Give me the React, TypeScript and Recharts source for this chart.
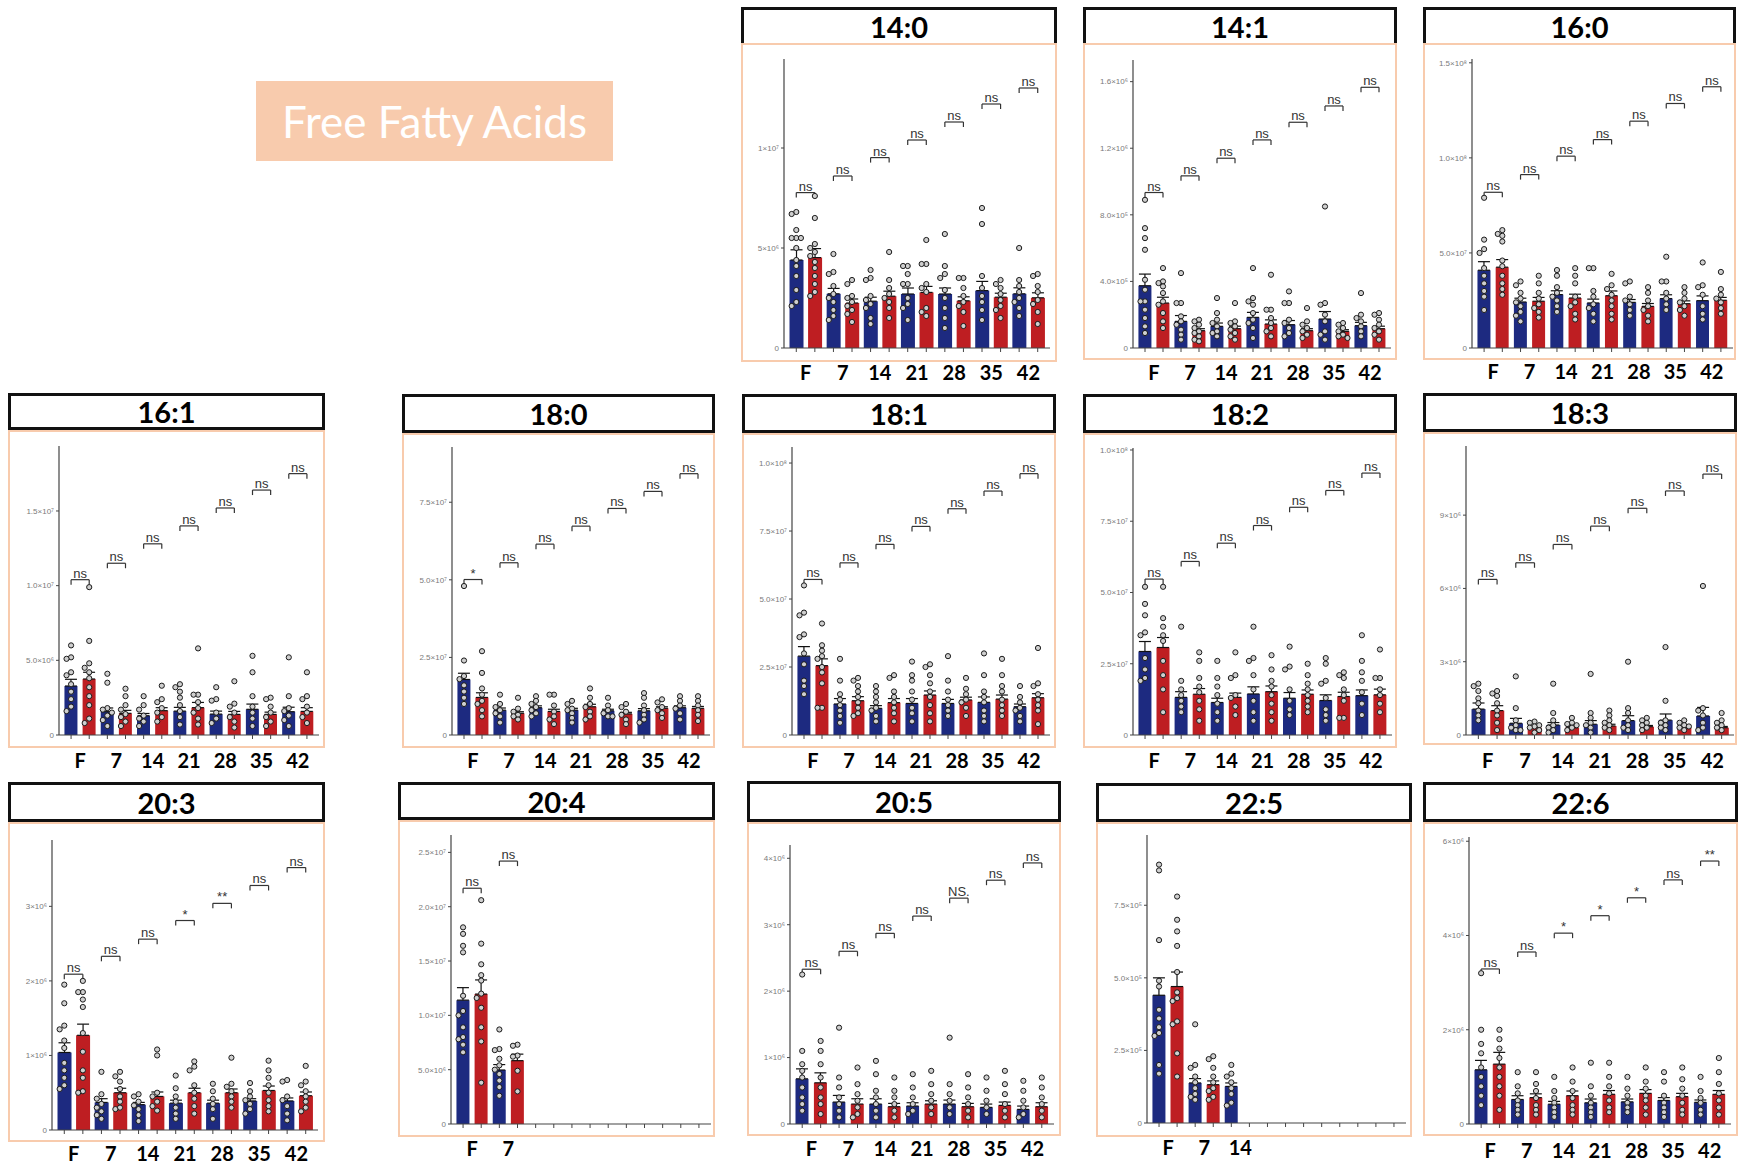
import React from "react";
import {
  Bar,
  Cell,
  ComposedChart,
  ErrorBar,
  ReferenceLine,
  Scatter,
  XAxis,
  YAxis,
} from "recharts";

const BLUE = "#1d2a80";
const RED = "#be1e22";
const PEACH = "#f8cbad";

const DAYS = ["F", "7", "14", "21", "28", "35", "42"];
const NS7 = ["ns", "ns", "ns", "ns", "ns", "ns", "ns"];

// bar order everywhere: F-blue, F-red, 7-blue, 7-red, ... 42-red

// 14:0, units of 1e6
const m14_0 = [4.4, 4.52, 2.71, 2.25, 2.34, 2.59, 2.7, 2.78, 2.7, 2.36, 2.87, 2.54, 2.71, 2.51];
const s14_0 = [0.51, 0.45, 0.27, 0.2, 0.2, 0.25, 0.3, 0.3, 0.3, 0.2, 0.46, 0.2, 0.3, 0.25];
const p14_0 = [
  [6.8, 6.7, 5.9, 5.5, 5.5, 5.5, 5.0, 4.4, 4.1, 3.6, 2.9, 2.3, 2.1],
  [7.6, 6.5, 5.2, 5.0, 4.8, 4.6, 4.3, 4.0, 3.6, 3.2, 2.8, 2.6],
  [4.7, 3.8, 3.7, 3.1, 2.7, 2.5, 2.3, 1.9, 1.6, 1.4],
  [3.4, 3.2, 2.6, 2.5, 2.3, 2.1, 1.9, 1.7, 1.3],
  [3.9, 3.5, 3.4, 2.6, 2.4, 2.2, 2.0, 1.5, 1.2],
  [4.8, 3.4, 3.0, 2.7, 2.5, 2.3, 2.0, 1.5],
  [4.1, 4.1, 3.7, 3.2, 3.2, 2.5, 2.2, 2.0, 1.4],
  [5.4, 4.2, 4.2, 3.2, 3.0, 2.8, 2.0, 1.8, 1.6],
  [5.7, 4.1, 3.7, 3.5, 2.9, 2.5, 2.0, 1.5, 1.0],
  [3.5, 3.5, 3.0, 2.6, 2.3, 2.1, 1.8, 1.1],
  [7.0, 6.2, 3.6, 3.0, 2.6, 2.3, 1.9, 1.4],
  [3.4, 3.2, 3.0, 2.7, 2.4, 2.1, 1.9, 1.5],
  [5.0, 3.4, 3.1, 2.8, 2.5, 2.3, 2.0, 1.6],
  [3.7, 3.6, 3.1, 2.8, 2.4, 2.2, 1.8, 1.2],
];
const b14_0 = [7.77, 8.6, 9.52, 10.4, 11.3, 12.2, 13.0];
const t14_0 = [0, 5, 10];
const l14_0 = ["0", "5×10⁶", "1×10⁷"];

// 14:1, units of 1e5
const m14_1 = [3.74, 2.7, 1.6, 1.04, 1.3, 1.16, 1.84, 1.44, 1.4, 1.04, 1.74, 1.0, 1.34, 1.16];
const s14_1 = [0.7, 0.35, 0.35, 0.12, 0.2, 0.15, 0.3, 0.25, 0.25, 0.12, 0.45, 0.1, 0.2, 0.15];
const p14_1 = [
  [8.9, 7.2, 6.6, 5.9, 4.1, 3.5, 2.8, 2.8, 2.3, 1.8, 1.3, 0.9],
  [4.8, 4.0, 3.9, 3.7, 3.3, 2.8, 2.6, 2.1, 1.6, 1.2],
  [4.5, 2.7, 2.7, 1.9, 1.6, 1.4, 1.1, 0.8, 0.5],
  [1.7, 1.6, 1.4, 1.2, 1.0, 0.9, 0.7, 0.5, 0.4],
  [3.0, 2.1, 1.7, 1.5, 1.3, 1.0, 0.9, 0.7],
  [2.7, 1.6, 1.5, 1.3, 1.1, 0.9, 0.7, 0.5],
  [4.8, 3.0, 2.8, 2.6, 2.1, 1.7, 1.5, 1.2, 0.6],
  [4.4, 2.3, 2.3, 1.8, 1.5, 1.2, 1.0, 0.7],
  [3.4, 2.7, 2.7, 1.7, 1.5, 1.2, 0.9, 0.7],
  [2.4, 1.6, 1.4, 1.2, 1.0, 0.8, 0.6],
  [8.5, 2.7, 2.6, 2.0, 1.6, 1.0, 0.8, 0.5],
  [1.5, 1.4, 1.2, 1.0, 0.8, 0.7, 0.6],
  [3.3, 2.0, 1.8, 1.6, 1.3, 1.0, 0.7],
  [2.1, 2.0, 1.7, 1.4, 1.2, 1.0, 0.8, 0.5],
];
const b14_1 = [9.34, 10.34, 11.4, 12.5, 13.56, 14.54, 15.66];
const t14_1 = [0, 4, 8, 12, 16];
const l14_1 = ["0", "4.0×10⁵", "8.0×10⁵", "1.2×10⁶", "1.6×10⁶"];

// 16:0, units of 1e7
const m16_0 = [4.09, 4.25, 2.42, 2.46, 2.81, 2.63, 2.37, 2.75, 2.4, 2.19, 2.6, 2.33, 2.49, 2.51];
const s16_0 = [0.45, 0.4, 0.2, 0.2, 0.2, 0.2, 0.2, 0.25, 0.15, 0.15, 0.2, 0.15, 0.25, 0.15];
const p16_0 = [
  [7.9, 5.7, 5.2, 5.0, 4.2, 3.8, 3.4, 3.0, 2.7, 2.0],
  [6.2, 6.0, 5.9, 5.6, 4.6, 4.3, 3.8, 3.4, 3.1, 2.8],
  [3.5, 3.3, 2.9, 2.6, 2.4, 2.2, 1.9, 1.7, 1.4],
  [3.8, 3.4, 2.9, 2.6, 2.3, 2.1, 1.9, 1.6],
  [4.1, 3.8, 3.2, 2.9, 2.7, 2.5, 2.2, 1.9],
  [4.2, 3.8, 3.4, 2.7, 2.4, 2.2, 1.8, 1.5],
  [4.2, 4.2, 3.0, 2.7, 2.3, 2.1, 1.8, 1.4],
  [3.9, 3.3, 3.1, 2.8, 2.5, 2.2, 1.8, 1.5],
  [3.5, 3.4, 2.7, 2.5, 2.3, 2.0, 1.7],
  [3.2, 2.9, 2.5, 2.2, 2.0, 1.7, 1.4],
  [4.8, 3.5, 3.5, 2.9, 2.6, 2.3, 2.0],
  [3.2, 2.9, 2.6, 2.4, 2.2, 2.0, 1.7],
  [4.5, 3.3, 3.2, 2.8, 2.2, 1.8, 1.5],
  [4.0, 3.1, 2.8, 2.6, 2.4, 2.1, 1.8],
];
const b16_0 = [8.19, 9.12, 10.09, 10.96, 11.93, 12.86, 13.74];
const t16_0 = [0, 5, 10, 15];
const l16_0 = ["0", "5.0×10⁷", "1.0×10⁸", "1.5×10⁸"];

// 16:1, units of 1e6
const m16_1 = [3.28, 3.75, 1.56, 1.45, 1.29, 1.63, 1.6, 1.83, 1.4, 1.38, 1.72, 1.38, 1.56, 1.58];
const s16_1 = [0.45, 0.45, 0.25, 0.2, 0.15, 0.2, 0.25, 0.35, 0.2, 0.2, 0.35, 0.15, 0.3, 0.25];
const p16_1 = [
  [6.0, 5.2, 5.1, 4.2, 4.0, 3.4, 2.9, 2.4, 1.9, 1.6],
  [9.9, 6.3, 4.8, 4.5, 4.2, 3.8, 3.2, 2.6, 2.0, 1.1, 0.8],
  [4.1, 3.5, 1.8, 1.7, 1.5, 1.3, 1.0, 0.6],
  [3.1, 2.6, 2.0, 1.7, 1.4, 1.2, 0.9, 0.6],
  [2.6, 2.0, 1.7, 1.3, 1.1, 0.9, 0.6],
  [3.3, 2.4, 2.2, 1.8, 1.5, 1.2, 0.9],
  [3.4, 3.2, 2.9, 2.5, 2.0, 1.6, 1.2, 0.7],
  [5.8, 2.7, 2.7, 2.2, 1.8, 1.5, 1.1, 0.7],
  [3.2, 2.4, 2.3, 1.5, 1.1, 0.8],
  [3.6, 2.1, 1.9, 1.5, 1.2, 0.9, 0.5],
  [5.3, 4.2, 2.6, 1.9, 1.5, 1.1, 0.6],
  [2.5, 2.4, 1.9, 1.5, 1.2, 0.9, 0.6],
  [5.2, 2.6, 1.8, 1.6, 1.3, 1.0, 0.6],
  [4.2, 2.6, 2.4, 1.9, 1.5, 1.2, 0.8],
];
const b16_1 = [10.4, 11.5, 12.8, 14.0, 15.2, 16.4, 17.5];
const t16_1 = [0, 5, 10, 15];
const l16_1 = ["0", "5.0×10⁶", "1.0×10⁷", "1.5×10⁷"];

// 18:0, units of 1e7
const m18_0 = [1.79, 1.21, 0.8, 0.7, 0.88, 0.76, 0.8, 0.91, 0.78, 0.68, 0.78, 0.86, 0.88, 0.86];
const s18_0 = [0.2, 0.15, 0.07, 0.05, 0.06, 0.07, 0.06, 0.08, 0.05, 0.05, 0.07, 0.05, 0.06, 0.06];
const p18_0 = [
  [4.8, 2.4, 1.9, 1.8, 1.6, 1.4, 1.2, 1.0],
  [2.7, 2.0, 1.5, 1.3, 1.1, 1.0, 0.8, 0.6],
  [1.3, 1.0, 0.9, 0.8, 0.7, 0.6, 0.4],
  [1.2, 0.85, 0.75, 0.65, 0.6, 0.5],
  [1.25, 1.1, 1.0, 0.9, 0.8, 0.7, 0.6],
  [1.3, 1.3, 0.95, 0.75, 0.6, 0.5, 0.35],
  [1.1, 1.0, 0.85, 0.8, 0.7, 0.55, 0.4],
  [1.5, 1.2, 1.0, 0.9, 0.75, 0.6, 0.5],
  [1.2, 0.95, 0.8, 0.7, 0.6, 0.6],
  [1.0, 0.9, 0.75, 0.65, 0.5, 0.35],
  [1.35, 1.2, 0.95, 0.8, 0.65, 0.5, 0.4],
  [1.15, 1.05, 0.9, 0.8, 0.7, 0.55],
  [1.25, 1.1, 0.95, 0.85, 0.7, 0.5],
  [1.25, 1.1, 0.95, 0.8, 0.65, 0.45],
];
const b18_0 = [5.01, 5.55, 6.15, 6.73, 7.3, 7.85, 8.42];
const g18_0 = ["*", "ns", "ns", "ns", "ns", "ns", "ns"];
const t18_0 = [0, 2.5, 5, 7.5];
const l18_0 = ["0", "2.5×10⁷", "5.0×10⁷", "7.5×10⁷"];

// 18:1, units of 1e7
const m18_1 = [2.9, 2.55, 1.14, 1.26, 0.98, 1.19, 1.16, 1.47, 1.16, 1.29, 1.2, 1.32, 1.04, 1.37];
const s18_1 = [0.35, 0.25, 0.2, 0.15, 0.1, 0.15, 0.18, 0.15, 0.15, 0.1, 0.2, 0.15, 0.1, 0.15];
const p18_1 = [
  [5.5, 4.5, 4.4, 3.7, 3.6, 3.0, 2.6, 2.0, 1.8, 1.5],
  [4.1, 3.3, 3.1, 2.9, 2.8, 2.5, 2.3, 1.9, 1.0, 1.0],
  [2.8, 2.0, 1.5, 1.3, 1.1, 0.9, 0.7, 0.45],
  [2.1, 2.0, 1.8, 1.6, 1.4, 1.2, 1.0, 0.8, 0.7],
  [1.8, 1.6, 1.4, 1.2, 1.0, 0.9, 0.7, 0.5],
  [2.2, 2.1, 1.6, 1.4, 1.2, 1.0, 0.8, 0.5],
  [2.7, 2.2, 2.0, 1.6, 1.3, 1.0, 0.8, 0.5],
  [2.6, 2.5, 2.2, 1.9, 1.6, 1.4, 1.1, 0.8, 0.5],
  [2.9, 2.0, 1.6, 1.3, 1.1, 0.9, 0.7],
  [2.1, 1.7, 1.5, 1.3, 1.2, 1.0, 0.7],
  [3.0, 2.2, 1.6, 1.4, 1.2, 0.9, 0.7, 0.5],
  [2.8, 2.2, 1.8, 1.6, 1.3, 1.1, 0.9, 0.7],
  [1.8, 1.4, 1.2, 1.0, 0.9, 0.7, 0.5],
  [3.2, 1.9, 1.8, 1.5, 1.3, 1.1, 0.9, 0.4],
];
const b18_1 = [5.72, 6.33, 7.01, 7.67, 8.32, 8.97, 9.61];
const t18_1 = [0, 2.5, 5, 7.5, 10];
const l18_1 = ["0", "2.5×10⁷", "5.0×10⁷", "7.5×10⁷", "1.0×10⁸"];

// 18:2, units of 1e7
const m18_2 = [2.93, 3.07, 1.32, 1.43, 1.14, 1.32, 1.44, 1.52, 1.29, 1.43, 1.21, 1.35, 1.38, 1.41];
const s18_2 = [0.35, 0.35, 0.2, 0.2, 0.15, 0.15, 0.25, 0.2, 0.2, 0.15, 0.2, 0.15, 0.2, 0.2];
const p18_2 = [
  [5.2, 4.6, 4.2, 3.6, 3.5, 2.7, 2.3, 2.0, 1.9],
  [5.2, 4.1, 3.8, 3.5, 3.3, 2.6, 2.1, 1.6, 0.8],
  [3.8, 1.9, 1.6, 1.4, 1.2, 1.0, 0.8],
  [2.9, 2.6, 2.0, 1.7, 1.5, 1.2, 0.9, 0.5],
  [2.6, 2.0, 1.7, 1.4, 1.1, 0.8, 0.5],
  [2.9, 2.1, 2.0, 1.4, 1.3, 1.0, 0.7],
  [3.8, 2.7, 2.6, 2.1, 1.6, 1.2, 0.8, 0.5],
  [2.8, 2.3, 1.9, 1.7, 1.4, 1.1, 0.8, 0.5],
  [3.1, 2.4, 2.3, 1.6, 1.2, 0.9, 0.7],
  [2.5, 2.1, 1.8, 1.6, 1.4, 1.2, 1.0, 0.8],
  [2.7, 2.5, 1.9, 1.8, 1.3, 0.9, 0.7, 0.5],
  [2.2, 2.1, 2.0, 1.6, 1.4, 1.2, 0.6, 0.6],
  [3.5, 2.6, 2.2, 1.9, 1.5, 1.1, 0.7],
  [3.0, 2.0, 2.0, 1.6, 1.4, 1.1, 0.8],
];
const b18_2 = [5.47, 6.09, 6.73, 7.35, 7.99, 8.58, 9.19];
const t18_2 = [0, 2.5, 5, 7.5, 10];
const l18_2 = ["0", "2.5×10⁷", "5.0×10⁷", "7.5×10⁷", "1.0×10⁸"];

// 18:3, units of 1e6
const m18_3 = [1.06, 1.0, 0.48, 0.3, 0.41, 0.3, 0.44, 0.37, 0.59, 0.34, 0.61, 0.3, 0.78, 0.3];
const s18_3 = [0.25, 0.2, 0.2, 0.05, 0.1, 0.05, 0.15, 0.07, 0.2, 0.05, 0.25, 0.04, 0.35, 0.05];
const p18_3 = [
  [2.1, 2.0, 1.8, 1.5, 1.3, 1.0, 0.8, 0.6],
  [1.8, 1.7, 1.6, 1.3, 1.0, 0.8, 0.5, 0.2],
  [2.4, 1.1, 0.6, 0.4, 0.3, 0.2, 0.2],
  [0.55, 0.5, 0.4, 0.35, 0.3, 0.2, 0.1],
  [2.1, 0.9, 0.6, 0.4, 0.3, 0.2, 0.1],
  [0.7, 0.5, 0.45, 0.4, 0.3, 0.2],
  [2.5, 0.9, 0.7, 0.5, 0.4, 0.3, 0.1],
  [1.0, 0.8, 0.6, 0.5, 0.4, 0.3, 0.2],
  [3.0, 1.1, 0.9, 0.6, 0.4, 0.3, 0.2],
  [0.7, 0.6, 0.5, 0.4, 0.3, 0.2],
  [3.6, 1.4, 0.6, 0.5, 0.4, 0.3, 0.2],
  [0.6, 0.5, 0.4, 0.35, 0.3, 0.2],
  [6.1, 1.1, 1.0, 0.8, 0.5, 0.3, 0.2],
  [0.9, 0.6, 0.5, 0.4, 0.3, 0.2],
];
const b18_3 = [6.37, 7.05, 7.8, 8.55, 9.28, 9.99, 10.68];
const t18_3 = [0, 3, 6, 9];
const l18_3 = ["0", "3×10⁶", "6×10⁶", "9×10⁶"];

// 20:3, units of 1e6
const m20_3 = [1.04, 1.27, 0.37, 0.5, 0.34, 0.45, 0.36, 0.5, 0.36, 0.5, 0.39, 0.53, 0.39, 0.46];
const s20_3 = [0.13, 0.15, 0.05, 0.06, 0.03, 0.06, 0.04, 0.06, 0.04, 0.05, 0.03, 0.06, 0.04, 0.05];
const p20_3 = [
  [1.95, 1.7, 1.4, 1.35, 1.2, 1.1, 0.9, 0.8, 0.7, 0.6, 0.55],
  [2.0, 1.85, 1.85, 1.75, 1.65, 1.3, 1.05, 0.8, 0.7, 0.52, 0.5],
  [0.78, 0.48, 0.42, 0.35, 0.3, 0.25, 0.2, 0.15],
  [0.78, 0.72, 0.65, 0.55, 0.45, 0.38, 0.3, 0.28],
  [0.48, 0.45, 0.38, 0.33, 0.28, 0.2, 0.12],
  [1.08, 1.0, 0.5, 0.45, 0.38, 0.32, 0.26],
  [0.73, 0.56, 0.45, 0.38, 0.3, 0.22, 0.15],
  [0.92, 0.85, 0.8, 0.6, 0.5, 0.42, 0.32, 0.22],
  [0.62, 0.52, 0.42, 0.35, 0.28, 0.15],
  [0.97, 0.62, 0.58, 0.52, 0.45, 0.38, 0.3],
  [0.63, 0.52, 0.45, 0.4, 0.35, 0.28, 0.22],
  [0.93, 0.8, 0.7, 0.6, 0.5, 0.4, 0.32, 0.25],
  [0.67, 0.65, 0.45, 0.4, 0.32, 0.22, 0.13],
  [0.86, 0.65, 0.6, 0.52, 0.45, 0.38, 0.3, 0.25],
];
const b20_3 = [2.09, 2.33, 2.56, 2.81, 3.04, 3.28, 3.52];
const g20_3 = ["ns", "ns", "ns", "*", "**", "ns", "ns"];
const t20_3 = [0, 1, 2, 3];
const l20_3 = ["0", "1×10⁶", "2×10⁶", "3×10⁶"];

// 20:4, units of 1e6 (only F and 7 measured)
const m20_4 = [11.4, 11.96, 4.97, 5.83, null, null, null, null, null, null, null, null, null, null];
const s20_4 = [1.15, 1.3, 0.5, 0.6, null, null, null, null, null, null, null, null, null, null];
const p20_4 = [
  [18.1, 17.5, 16.4, 15.8, 11.8, 10.4, 10.0, 8.9, 8.0, 7.8, 7.3, 6.6],
  [20.6, 16.6, 14.7, 13.7, 13.2, 12.0, 11.6, 10.7, 8.9, 7.6, 3.8],
  [8.7, 6.9, 6.8, 6.0, 5.4, 5.0, 4.6, 4.0, 3.4, 2.6],
  [7.3, 7.2, 6.3, 6.2, 4.9, 3.0],
  [], [], [], [], [], [], [], [], [], [],
];
const b20_4 = [21.7, 24.2];
const t20_4 = [0, 5, 10, 15, 20, 25];
const l20_4 = ["0", "5.0×10⁶", "1.0×10⁷", "1.5×10⁷", "2.0×10⁷", "2.5×10⁷"];

// 20:5, units of 1e6
const m20_5 = [0.68, 0.62, 0.33, 0.3, 0.3, 0.26, 0.27, 0.3, 0.3, 0.26, 0.25, 0.28, 0.22, 0.26];
const s20_5 = [0.15, 0.15, 0.1, 0.08, 0.08, 0.05, 0.05, 0.05, 0.06, 0.05, 0.05, 0.05, 0.05, 0.06];
const p20_5 = [
  [2.25, 1.1, 0.9, 0.8, 0.7, 0.55, 0.4, 0.3, 0.2],
  [1.25, 1.1, 0.9, 0.7, 0.55, 0.4, 0.3, 0.15],
  [1.45, 0.7, 0.55, 0.4, 0.3, 0.2, 0.1],
  [0.85, 0.6, 0.45, 0.35, 0.25, 0.15, 0.1],
  [0.95, 0.75, 0.5, 0.4, 0.3, 0.2, 0.1],
  [0.7, 0.5, 0.4, 0.3, 0.2, 0.1],
  [0.75, 0.55, 0.4, 0.3, 0.2, 0.15],
  [0.8, 0.6, 0.45, 0.35, 0.25, 0.15],
  [1.3, 0.6, 0.45, 0.35, 0.25, 0.15],
  [0.75, 0.55, 0.4, 0.3, 0.2, 0.1],
  [0.7, 0.5, 0.35, 0.25, 0.15],
  [0.8, 0.6, 0.45, 0.3, 0.2, 0.1],
  [0.65, 0.5, 0.35, 0.25, 0.15, 0.1],
  [0.7, 0.55, 0.4, 0.3, 0.2, 0.1],
];
const b20_5 = [2.33, 2.6, 2.87, 3.13, 3.4, 3.67, 3.93];
const g20_5 = ["ns", "ns", "ns", "ns", "NS.", "ns", "ns"];
const t20_5 = [0, 1, 2, 3, 4];
const l20_5 = ["0", "1×10⁶", "2×10⁶", "3×10⁶", "4×10⁶"];

// 22:5, units of 1e5 (F, 7 and 14-blue only)
const m22_5 = [4.4, 4.7, 1.38, 1.32, 1.26, null, null, null, null, null, null, null, null, null];
const s22_5 = [0.6, 0.5, 0.15, 0.13, 0.12, null, null, null, null, null, null, null, null, null];
const p22_5 = [
  [8.9, 8.7, 6.3, 4.9, 4.7, 3.9, 3.6, 3.3, 3.1, 3.0, 2.0, 1.7],
  [7.8, 7.0, 6.6, 6.1, 5.2, 4.5, 4.3, 4.2, 3.5, 3.4, 2.4, 1.6],
  [3.4, 2.0, 1.9, 1.6, 1.4, 1.2, 1.0, 0.9, 0.8],
  [2.3, 2.2, 1.9, 1.6, 1.4, 1.2, 1.1, 0.9, 0.8],
  [2.0, 1.7, 1.6, 1.4, 1.2, 1.0, 0.7, 0.6],
  [], [], [], [], [], [], [], [], [],
];
const t22_5 = [0, 2.5, 5, 7.5];
const l22_5 = ["0", "2.5×10⁵", "5.0×10⁵", "7.5×10⁵"];

// 22:6, units of 1e6
const m22_6 = [1.15, 1.27, 0.52, 0.56, 0.42, 0.6, 0.45, 0.63, 0.47, 0.65, 0.5, 0.58, 0.46, 0.63];
const s22_6 = [0.2, 0.25, 0.08, 0.08, 0.06, 0.1, 0.08, 0.08, 0.06, 0.08, 0.06, 0.07, 0.05, 0.08];
const p22_6 = [
  [3.2, 2.0, 1.7, 1.5, 1.2, 1.0, 0.8, 0.6, 0.4],
  [2.0, 1.8, 1.6, 1.4, 1.2, 1.0, 0.8, 0.6, 0.3],
  [1.1, 0.8, 0.65, 0.5, 0.4, 0.3, 0.2],
  [1.1, 0.85, 0.7, 0.55, 0.4, 0.3, 0.2],
  [1.0, 0.7, 0.55, 0.45, 0.35, 0.25, 0.15],
  [1.2, 0.9, 0.7, 0.55, 0.4, 0.3, 0.2],
  [1.3, 0.8, 0.6, 0.45, 0.35, 0.25, 0.15],
  [1.3, 1.0, 0.8, 0.65, 0.5, 0.35, 0.25],
  [1.0, 0.75, 0.6, 0.45, 0.35, 0.25],
  [1.2, 0.9, 0.75, 0.6, 0.5, 0.35, 0.2],
  [1.1, 0.9, 0.6, 0.45, 0.35, 0.25, 0.15],
  [1.2, 0.95, 0.75, 0.6, 0.45, 0.3, 0.2],
  [1.0, 0.7, 0.55, 0.45, 0.3, 0.2],
  [1.4, 1.1, 0.85, 0.65, 0.5, 0.35, 0.2],
];
const b22_6 = [3.29, 3.65, 4.05, 4.42, 4.8, 5.18, 5.58];
const g22_6 = ["ns", "ns", "*", "*", "*", "ns", "**"];
const t22_6 = [0, 2, 4, 6];
const l22_6 = ["0", "2×10⁶", "4×10⁶", "6×10⁶"];

type PanelData = {
  title: string;
  mean: (number | null)[];
  sem: (number | null)[];
  pts: number[][];
  brk: number[];
  sig: string[];
  yMax: number;
  yTicks: number[];
  yLabels: string[];
  days: string[];
};

// L/R: box edges, T/TB: title box top/bottom, OB: frame bottom,
// AX: y-axis x, AT: y-axis top, Z: zero line, RR: last band end, LY: day label y
type Box = {
  L: number; R: number; T: number; TB: number; OB: number;
  AX: number; AT: number; Z: number; RR: number; LY: number; open?: boolean;
};

const panels: { d: PanelData; b: Box }[] = [
  {
    d: { title: "14:0", mean: m14_0, sem: s14_0, pts: p14_0, brk: b14_0, sig: NS7, yMax: 14.45, yTicks: t14_0, yLabels: l14_0, days: DAYS },
    b: { L: 741, R: 1057, T: 7, TB: 43, OB: 362, AX: 784, AT: 59, Z: 348, RR: 1047, LY: 372, open: true },
  },
  {
    d: { title: "14:1", mean: m14_1, sem: s14_1, pts: p14_1, brk: b14_1, sig: NS7, yMax: 17.3, yTicks: t14_1, yLabels: l14_1, days: DAYS },
    b: { L: 1083, R: 1397, T: 7, TB: 43, OB: 360, AX: 1133, AT: 60, Z: 348, RR: 1388, LY: 372, open: true },
  },
  {
    d: { title: "16:0", mean: m16_0, sem: s16_0, pts: p16_0, brk: b16_0, sig: NS7, yMax: 15.2, yTicks: t16_0, yLabels: l16_0, days: DAYS },
    b: { L: 1423, R: 1736, T: 7, TB: 43, OB: 360, AX: 1472, AT: 59, Z: 348, RR: 1730, LY: 371, open: true },
  },
  {
    d: { title: "16:1", mean: m16_1, sem: s16_1, pts: p16_1, brk: b16_1, sig: NS7, yMax: 19.35, yTicks: t16_1, yLabels: l16_1, days: DAYS },
    b: { L: 8, R: 325, T: 393, TB: 430, OB: 748, AX: 59, AT: 446, Z: 735, RR: 316, LY: 760 },
  },
  {
    d: { title: "18:0", mean: m18_0, sem: s18_0, pts: p18_0, brk: b18_0, sig: g18_0, yMax: 9.28, yTicks: t18_0, yLabels: l18_0, days: DAYS },
    b: { L: 402, R: 715, T: 394, TB: 433, OB: 748, AX: 452, AT: 447, Z: 735, RR: 707, LY: 760 },
  },
  {
    d: { title: "18:1", mean: m18_1, sem: s18_1, pts: p18_1, brk: b18_1, sig: NS7, yMax: 10.59, yTicks: t18_1, yLabels: l18_1, days: DAYS },
    b: { L: 742, R: 1056, T: 394, TB: 433, OB: 748, AX: 792, AT: 447, Z: 735, RR: 1047, LY: 760 },
  },
  {
    d: { title: "18:2", mean: m18_2, sem: s18_2, pts: p18_2, brk: b18_2, sig: NS7, yMax: 10.07, yTicks: t18_2, yLabels: l18_2, days: DAYS },
    b: { L: 1083, R: 1397, T: 394, TB: 433, OB: 748, AX: 1133, AT: 448, Z: 735, RR: 1389, LY: 760 },
  },
  {
    d: { title: "18:3", mean: m18_3, sem: s18_3, pts: p18_3, brk: b18_3, sig: NS7, yMax: 11.83, yTicks: t18_3, yLabels: l18_3, days: DAYS },
    b: { L: 1423, R: 1737, T: 393, TB: 432, OB: 745, AX: 1466, AT: 446, Z: 735, RR: 1731, LY: 760 },
  },
  {
    d: { title: "20:3", mean: m20_3, sem: s20_3, pts: p20_3, brk: b20_3, sig: g20_3, yMax: 3.89, yTicks: t20_3, yLabels: l20_3, days: DAYS },
    b: { L: 8, R: 325, T: 782, TB: 822, OB: 1142, AX: 52, AT: 840, Z: 1130, RR: 315, LY: 1153 },
  },
  {
    d: { title: "20:4", mean: m20_4, sem: s20_4, pts: p20_4, brk: b20_4, sig: ["ns", "ns"], yMax: 26.6, yTicks: t20_4, yLabels: l20_4, days: ["F", "7"] },
    b: { L: 398, R: 715, T: 782, TB: 820, OB: 1137, AX: 451, AT: 835, Z: 1124, RR: 708, LY: 1148 },
  },
  {
    d: { title: "20:5", mean: m20_5, sem: s20_5, pts: p20_5, brk: b20_5, sig: g20_5, yMax: 4.2, yTicks: t20_5, yLabels: l20_5, days: DAYS },
    b: { L: 747, R: 1061, T: 781, TB: 822, OB: 1136, AX: 790, AT: 845, Z: 1124, RR: 1051, LY: 1148 },
  },
  {
    d: { title: "22:5", mean: m22_5, sem: s22_5, pts: p22_5, brk: [], sig: [], yMax: 9.92, yTicks: t22_5, yLabels: l22_5, days: ["F", "7", "14"] },
    b: { L: 1096, R: 1412, T: 783, TB: 822, OB: 1137, AX: 1147, AT: 835, Z: 1123, RR: 1403, LY: 1147 },
  },
  {
    d: { title: "22:6", mean: m22_6, sem: s22_6, pts: p22_6, brk: b22_6, sig: g22_6, yMax: 6.09, yTicks: t22_6, yLabels: l22_6, days: DAYS },
    b: { L: 1423, R: 1738, T: 782, TB: 822, OB: 1136, AX: 1469, AT: 837, Z: 1124, RR: 1728, LY: 1150 },
  },
];

// spread the dots of one bar sideways when they would overlap (simple beeswarm)
function swarm(pts: number[][], thr: number) {
  const out: { x: number; y: number }[] = [];
  const cands = [0, -0.25, 0.25, -0.13, 0.13, -0.36, 0.36];
  pts.forEach((list, i) => {
    const placed: { dx: number; y: number }[] = [];
    [...list].sort((a, b) => b - a).forEach((v) => {
      const dx =
        cands.find((c) =>
          placed.every((p) => Math.abs(p.dx - c) >= 0.24 || Math.abs(p.y - v) >= thr)
        ) ?? 0;
      placed.push({ dx, y: v });
      out.push({ x: i + dx, y: v });
    });
  });
  return out;
}

const dotShape = (p: any) => (
  <circle cx={p.cx} cy={p.cy} r={2.6} fill="#cfcfcf" stroke="#1a1a1a" strokeWidth={1} />
);

function Panel({ d, b }: { d: PanelData; b: Box }) {
  const W = b.R - b.L;
  const H = b.LY + 14 - b.TB;
  const plotH = b.Z - b.AT;
  const unitPerPx = d.yMax / plotH;
  const leg = unitPerPx * 5;
  const rows = d.mean.map((m, i) => ({
    cat: i,
    x: i,
    mean: m,
    err: m == null ? null : [0, d.sem[i]],
  }));
  const dots = swarm(d.pts, unitPerPx * 4.6);
  const xTicks: number[] = [];
  for (let i = 0; i < 14; i++) {
    xTicks.push(i);
    if (i % 2 === 0) xTicks.push(i + 0.5);
  }
  const labelDy = b.LY - b.Z;

  const renderXTick = (p: any) => {
    const v = p.payload.value as number;
    if (Number.isInteger(v)) {
      return <line x1={p.x} x2={p.x} y1={p.y} y2={p.y + 4} stroke="#444" strokeWidth={1} />;
    }
    const label = d.days[(v - 0.5) / 2];
    if (!label) return <g />;
    return (
      <text
        x={p.x}
        y={p.y + labelDy}
        textAnchor="middle"
        dominantBaseline="central"
        fontFamily="Lato, 'Open Sans', sans-serif"
        fontWeight={700}
        fontSize={20}
        fill="#000"
      >
        {label}
      </text>
    );
  };

  return (
    <>
      <div
        style={{
          position: "absolute",
          left: b.L,
          top: b.TB,
          width: W,
          height: b.OB - b.TB,
          border: `2px solid ${PEACH}`,
          boxSizing: "border-box",
        }}
      />
      <div
        style={{
          position: "absolute",
          left: b.L,
          top: b.T,
          width: W,
          height: b.TB - b.T,
          border: "3px solid #111",
          borderBottom: b.open ? "none" : "3px solid #111",
          boxSizing: "border-box",
          background: "#fff",
          display: "flex",
          alignItems: "center",
          justifyContent: "center",
          fontFamily: "Lato, 'Open Sans', sans-serif",
          fontWeight: 700,
          fontSize: 29,
          color: "#000",
        }}
      >
        {d.title}
      </div>
      <div style={{ position: "absolute", left: b.L, top: b.TB }}>
        <ComposedChart
          width={W}
          height={H}
          data={rows}
          barCategoryGap="13.5%"
          margin={{ top: b.AT - b.TB, right: b.R - b.RR - 3, bottom: 0, left: 0 }}
        >
          <XAxis
            xAxisId="num"
            dataKey="x"
            type="number"
            domain={[-0.5, 13.5]}
            allowDataOverflow
            ticks={xTicks}
            interval={0}
            tick={renderXTick}
            tickLine={false}
            tickSize={0}
            tickMargin={0}
            height={b.LY + 14 - b.Z}
            axisLine={{ stroke: "#444", strokeWidth: 1.2 }}
            padding={{ left: 3, right: 3 }}
          />
          <XAxis xAxisId="cat" dataKey="cat" type="category" hide height={0} padding={{ left: 3, right: 3 }} />
          <YAxis
            type="number"
            domain={[0, d.yMax]}
            allowDataOverflow
            ticks={d.yTicks}
            interval={0}
            width={b.AX - b.L}
            tickFormatter={(v: number) => d.yLabels[d.yTicks.indexOf(v)] ?? ""}
            tick={{ fontSize: 8, fill: "#7a7a7a", fontFamily: "'Liberation Sans', Arial, sans-serif" }}
            tickSize={3}
            tickMargin={2}
            axisLine={{ stroke: "#444", strokeWidth: 1.2 }}
            tickLine={{ stroke: "#444" }}
          />
          <Bar xAxisId="cat" dataKey="mean" isAnimationActive={false}>
            {rows.map((r) => (
              <Cell key={r.cat} fill={r.cat % 2 === 0 ? BLUE : RED} />
            ))}
            <ErrorBar dataKey="err" direction="y" width={6} stroke="#111" strokeWidth={1.2} isAnimationActive={false} />
          </Bar>
          <Scatter xAxisId="num" data={dots} dataKey="y" shape={dotShape} isAnimationActive={false} />
          {d.brk.flatMap((h, p) => [
            <ReferenceLine
              key={`h${p}`}
              xAxisId="num"
              ifOverflow="visible"
              segment={[{ x: 2 * p, y: h }, { x: 2 * p + 1, y: h }]}
              stroke="#333"
              strokeWidth={1.2}
              label={{
                value: d.sig[p],
                position: "top",
                offset: 2,
                fontSize: 13,
                fill: "#333",
                fontFamily: "'Liberation Sans', Arial, sans-serif",
              }}
            />,
            <ReferenceLine
              key={`l${p}`}
              xAxisId="num"
              ifOverflow="visible"
              segment={[{ x: 2 * p, y: h }, { x: 2 * p, y: h - leg }]}
              stroke="#333"
              strokeWidth={1.2}
            />,
            <ReferenceLine
              key={`r${p}`}
              xAxisId="num"
              ifOverflow="visible"
              segment={[{ x: 2 * p + 1, y: h }, { x: 2 * p + 1, y: h - leg }]}
              stroke="#333"
              strokeWidth={1.2}
            />,
          ])}
        </ComposedChart>
      </div>
    </>
  );
}

export default function App() {
  return (
    <div
      style={{
        position: "absolute",
        left: 0,
        top: 0,
        width: 1738,
        height: 1164,
        background: "#fff",
        overflow: "hidden",
      }}
    >
      <div
        style={{
          position: "absolute",
          left: 256,
          top: 81,
          width: 357,
          height: 80,
          background: PEACH,
          color: "#fff",
          display: "flex",
          alignItems: "center",
          justifyContent: "center",
          fontFamily: "Lato, 'Open Sans', sans-serif",
          fontSize: 44,
        }}
      >
        Free Fatty Acids
      </div>
      {panels.map((p) => (
        <Panel key={p.d.title} d={p.d} b={p.b} />
      ))}
    </div>
  );
}
